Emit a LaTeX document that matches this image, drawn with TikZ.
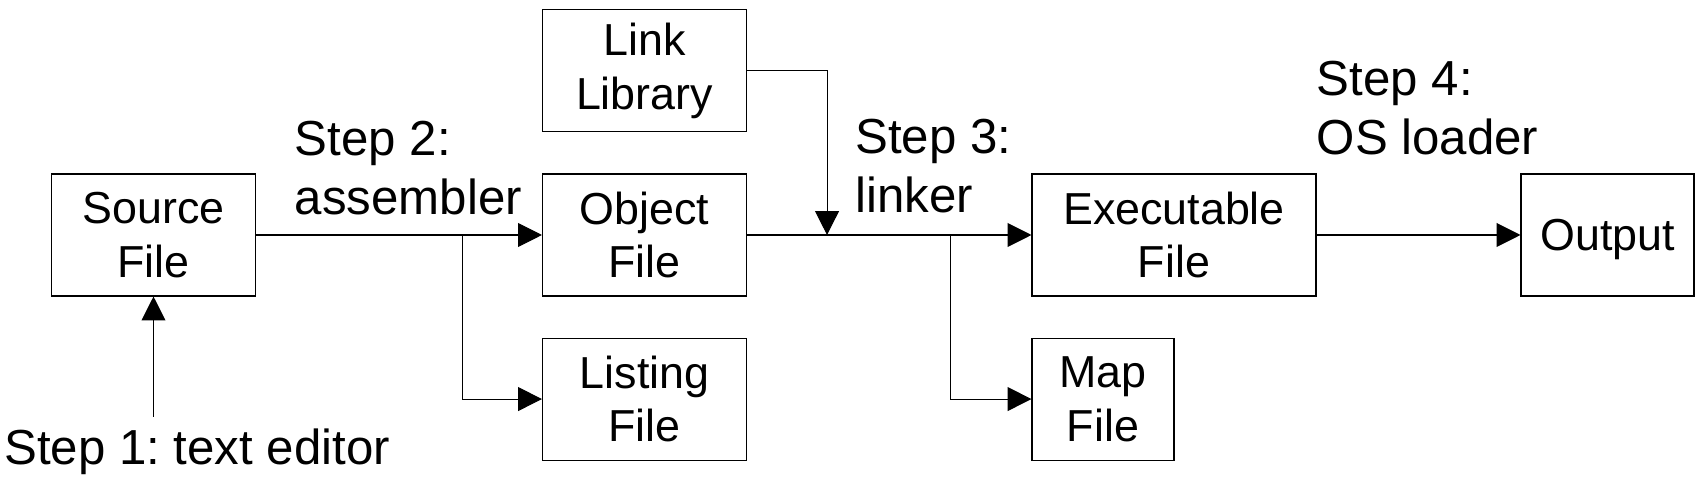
\documentclass[tikz,border=0pt]{standalone}
\usepackage{fontspec}
\setmainfont{Liberation Sans}
\usetikzlibrary{positioning, calc, arrows.meta}
\tikzset{
    filebox/.style={rectangle, draw=black, line width=0.6pt, align=center, minimum width=4.08cm, minimum height=2.44cm, inner sep=0pt, font=\fontsize{25.5}{30.6}\selectfont},
    steplabel/.style={align=left, anchor=base west, inner sep=0pt, font=\fontsize{28}{33.6}\selectfont\frenchspacing},
    flow/.style={-{Triangle[length=13.6pt, width=13.6pt]}, line width=0.6pt, color=black},
}

\begin{document}
\begin{tikzpicture}
    \useasboundingbox (0,0) rectangle (34.02,9.70);

    % Dateien
    \node[filebox] (src) at (3.07,5.00) {Source\\File};
    \node[filebox] (obj) at (12.89,5.00) {Object\\File};
    \node[filebox, above=0.82cm of obj] (lib) {Link\\Library};
    \node[filebox, below=0.82cm of obj] (lst) {Listing\\File};
    \node[filebox, minimum width=5.68cm] (exe) at (23.48,5.00) {Executable\\File};
    \node[filebox, minimum width=2.84cm, below right=0.82cm and 0cm of exe.south west] (map) {Map\\File};
    \node[filebox, minimum width=3.46cm, text depth=0pt] (out) at (32.15,5.00) {Output};

    % Schritte (Grundlinie der letzten Zeile)
    \node[steplabel] (edit) at (0.08,0.40) {Step 1: text editor};
    \node[steplabel] (asm) at (5.89,5.40) {Step 2:\\assembler};
    \node[steplabel] (lnk) at (17.10,5.44) {Step 3:\\linker};
    \node[steplabel] (ldr) at (26.33,6.60) {Step 4:\\OS loader};

    % Verzweigungen
    \coordinate (edtop) at ([yshift=0.24cm]edit.north);
    \coordinate (asmfork) at ([xshift=4.12cm]src.east);
    \coordinate (libjoin) at ([xshift=1.60cm]obj.east);
    \coordinate (lnkfork) at ([xshift=4.06cm]obj.east);

    % Pfeile
    \draw[flow] (edtop -| src.south) -- (src.south);
    \draw[flow] (src.east) -- (obj.west);
    \draw[flow] (asmfork) |- (lst.west);
    \draw[flow] (lib.east) -| (libjoin);
    \draw[flow] (obj.east) -- (exe.west);
    \draw[flow] (lnkfork) |- (map.west);
    \draw[flow] (exe.east) -- (out.west);
\end{tikzpicture}
\end{document}
